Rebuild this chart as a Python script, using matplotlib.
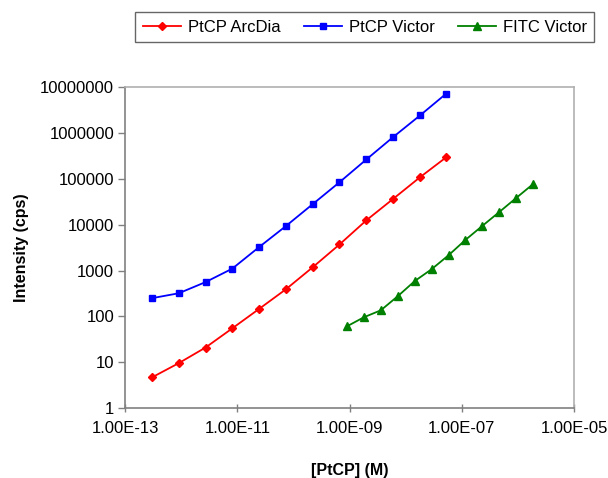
import matplotlib
matplotlib.use("Agg")
import matplotlib.pyplot as plt
from matplotlib.ticker import FixedLocator, FuncFormatter, NullLocator

plt.rcParams["font.family"] = ["Liberation Sans", "DejaVu Sans"]

# ------------------------------------------------------------
# data
# ------------------------------------------------------------

ptcp_conc = [3.0e-13, 9.0e-13, 2.7e-12, 8.1e-12, 2.4e-11, 7.3e-11,
             2.2e-10, 6.6e-10, 2.0e-9, 5.9e-9, 1.8e-8, 5.3e-8]

arcdia_int = [4.7, 9.6, 21, 55, 144, 390, 1180, 3700, 12500, 36000,
              108000, 295000]

victor_int = [250, 320, 560, 1100, 3200, 9300, 28000, 84000, 265000,
              800000, 2400000, 7200000]

fitc_conc = [9.0e-10, 1.8e-9, 3.6e-9, 7.2e-9, 1.45e-8, 2.9e-8, 5.8e-8,
             1.15e-7, 2.3e-7, 4.6e-7, 9.2e-7, 1.85e-6]

fitc_int = [61, 96, 136, 275, 590, 1070, 2150, 4600, 9300, 18600,
            37600, 76000]

x_ticks = [1e-13, 1e-11, 1e-9, 1e-7, 1e-5]
y_ticks = [1, 10, 100, 1000, 10000, 100000, 1000000, 10000000]

# ------------------------------------------------------------
# plot
# ------------------------------------------------------------

fig = plt.figure(figsize=(6.08, 4.78), dpi=100)
ax = fig.add_axes([0.206, 0.146, 0.738, 0.672])

ax.plot(ptcp_conc, arcdia_int, color="#ff0000", lw=1.3, marker="D",
        ms=4.5, label="PtCP ArcDia")
ax.plot(ptcp_conc, victor_int, color="#0000ff", lw=1.3, marker="s",
        ms=5, label="PtCP Victor")
ax.plot(fitc_conc, fitc_int, color="#008000", lw=1.3, marker="^",
        ms=6, label="FITC Victor")

ax.set_xscale("log")
ax.set_yscale("log")
ax.set_xlim(1e-13, 1e-5)
ax.set_ylim(1, 1e7)

ax.xaxis.set_major_locator(FixedLocator(x_ticks))
ax.xaxis.set_minor_locator(NullLocator())
ax.yaxis.set_major_locator(FixedLocator(y_ticks))
ax.yaxis.set_minor_locator(NullLocator())

ax.xaxis.set_major_formatter(FuncFormatter(lambda v, p: "{:.2E}".format(v)))
ax.yaxis.set_major_formatter(FuncFormatter(lambda v, p: "{:d}".format(int(round(v)))))

ax.tick_params(axis="x", direction="inout", length=6, width=1,
               color="#808080", labelsize=12, pad=6)
ax.tick_params(axis="y", direction="out", length=5, width=1,
               color="#808080", labelsize=12, pad=3)

ax.spines["left"].set_color("#808080")
ax.spines["bottom"].set_color("#808080")
ax.spines["top"].set_color("#b0b0b0")
ax.spines["right"].set_color("#b0b0b0")
for s in ax.spines.values():
    s.set_linewidth(1.2)

ax.set_xlabel("[PtCP] (M)", fontsize=11.5, fontweight="bold", labelpad=20)
ax.set_ylabel("Intensity (cps)", fontsize=11.5, fontweight="bold", labelpad=8)

leg = fig.legend(loc="center", bbox_to_anchor=(0.600, 0.943), ncol=3,
                 fontsize=12, frameon=True, fancybox=False,
                 edgecolor="#404040", handlelength=2.3, columnspacing=1.4,
                 handletextpad=0.4, borderpad=0.45)
leg.get_frame().set_linewidth(1.0)

fig.savefig("out.png", dpi=100)
